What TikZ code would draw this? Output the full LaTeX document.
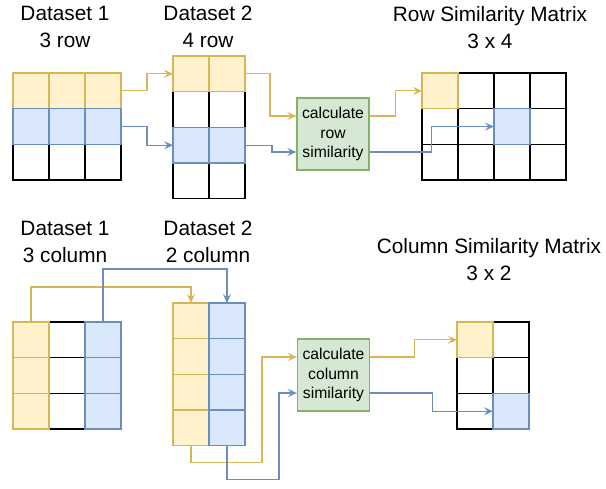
\documentclass[tikz,border=0pt]{standalone}
\usepackage{fontspec}
\setmainfont{Liberation Sans}
\usepackage{xcolor}
\usetikzlibrary{arrows.meta, positioning, calc}
\definecolor{ylwfill}{HTML}{FFF2CC}
\definecolor{ylwline}{HTML}{D6B656}
\definecolor{blufill}{HTML}{DAE8FC}
\definecolor{bluline}{HTML}{6C8EBF}
\definecolor{grnfill}{HTML}{D5E8D4}
\definecolor{grnline}{HTML}{82B366}

\begin{document}
\begin{tikzpicture}[
    x=1pt, y=-1pt,
    cell/.style={draw=black, fill=white, line width=1.3pt, minimum width=36pt, minimum height=35.7pt, inner sep=0pt, outer sep=0pt},
    ycell/.style={cell, draw=ylwline, fill=ylwfill},
    bcell/.style={cell, draw=bluline, fill=blufill},
    calcbox/.style={draw=grnline, fill=grnfill, line width=1.3pt, minimum width=72pt, minimum height=72pt, inner sep=0pt, align=center, font=\fontsize{15.7}{19.7}\selectfont},
    title/.style={align=center, font=\fontsize{20.8}{27}\selectfont},
    yarrow/.style={-{Stealth[length=9pt, width=8pt, inset=3.5pt]}, draw=ylwline, line width=1.3pt},
    barrow/.style={-{Stealth[length=9pt, width=8pt, inset=3.5pt]}, draw=bluline, line width=1.3pt}
]
    \useasboundingbox (0,0) rectangle (606,489);

    % row similarity
    \node[title] (t1) at (65,27) {Dataset 1\\3 row};
    \node[title] (t2) at (208,27) {Dataset 2\\4 row};
    \node[title] (t3) at (490,28) {Row Similarity Matrix\\3 x 4};

    \foreach \r/\y/\s in {3/162.25/cell, 1/90.85/ycell, 2/126.55/bcell}
        \foreach \c/\x in {1/31, 2/67, 3/103}
            \node[\s] (a\r\c) at (\x,\y) {};
    \foreach \r/\y/\s in {2/109.55/cell, 4/180.95/cell, 1/73.85/ycell, 3/145.25/bcell}
        \foreach \c/\x in {1/191, 2/227}
            \node[\s] (b\r\c) at (\x,\y) {};
    \foreach \r/\y in {1/90.85, 2/126.55, 3/162.25}
        \foreach \c/\x in {1/440, 2/476, 3/512, 4/548}
            \node[cell] (r\r\c) at (\x,\y) {};
    \node[ycell] (r11) at (440,90.85) {};
    \node[bcell] (r23) at (512,126.55) {};

    \node[calcbox] (calcrow) at (333,134) {calculate\\row\\similarity};

    \draw[yarrow] (a13.east) -- ++(26,0) |- (b11.west);
    \draw[barrow] (a23.east) -- ++(26,0) |- (b31.west);
    \draw[yarrow] (b12.east) -- ++(25,0) |- ([yshift=18pt]calcrow.west);
    \draw[barrow] (b32.east) -- ++(27,0) |- ([yshift=-18pt]calcrow.west);
    \draw[yarrow] ([yshift=18pt]calcrow.east) -- ++(26,0) |- (r11.west);
    \draw[barrow] ([yshift=-18pt]calcrow.east) -- ++(62,0) |- (r23.west);

    % column similarity
    \node[title] (t4) at (65,242) {Dataset 1\\3 column};
    \node[title] (t5) at (208,242) {Dataset 2\\2 column};
    \node[title] (t6) at (489,260) {Column Similarity Matrix\\3 x 2};

    \foreach \c/\x/\s in {2/67/cell, 1/31/ycell, 3/103/bcell}
        \foreach \r/\y in {1/339.85, 2/375.55, 3/411.25}
            \node[\s] (c\r\c) at (\x,\y) {};
    \foreach \c/\x/\s in {1/191/ycell, 2/227/bcell}
        \foreach \r/\y in {1/320.85, 2/356.55, 3/392.25, 4/427.95}
            \node[\s] (d\r\c) at (\x,\y) {};
    \foreach \r/\y in {1/339.85, 2/375.55, 3/411.25}
        \foreach \c/\x in {1/475, 2/511}
            \node[cell] (m\r\c) at (\x,\y) {};
    \node[ycell] (m11) at (475,339.85) {};
    \node[bcell] (m32) at (511,411.25) {};

    \node[calcbox] (calccol) at (333.5,375) {calculate\\column\\similarity};

    \draw[yarrow] (c11.north) -- ++(0,-35) -| (d11.north);
    \draw[barrow] (c13.north) -- ++(0,-53) -| (d12.north);
    \draw[yarrow] (d41.south) -- ++(0,17) -- ++(71,0) |- ([yshift=18pt]calccol.west);
    \draw[barrow] (d42.south) -- ++(0,34) -- ++(52,0) |- ([yshift=-18pt]calccol.west);
    \draw[yarrow] ([yshift=18pt]calccol.east) -- ++(44,0) |- (m11.west);
    \draw[barrow] ([yshift=-18pt]calccol.east) -- ++(62,0) |- (m32.west);
\end{tikzpicture}
\end{document}
